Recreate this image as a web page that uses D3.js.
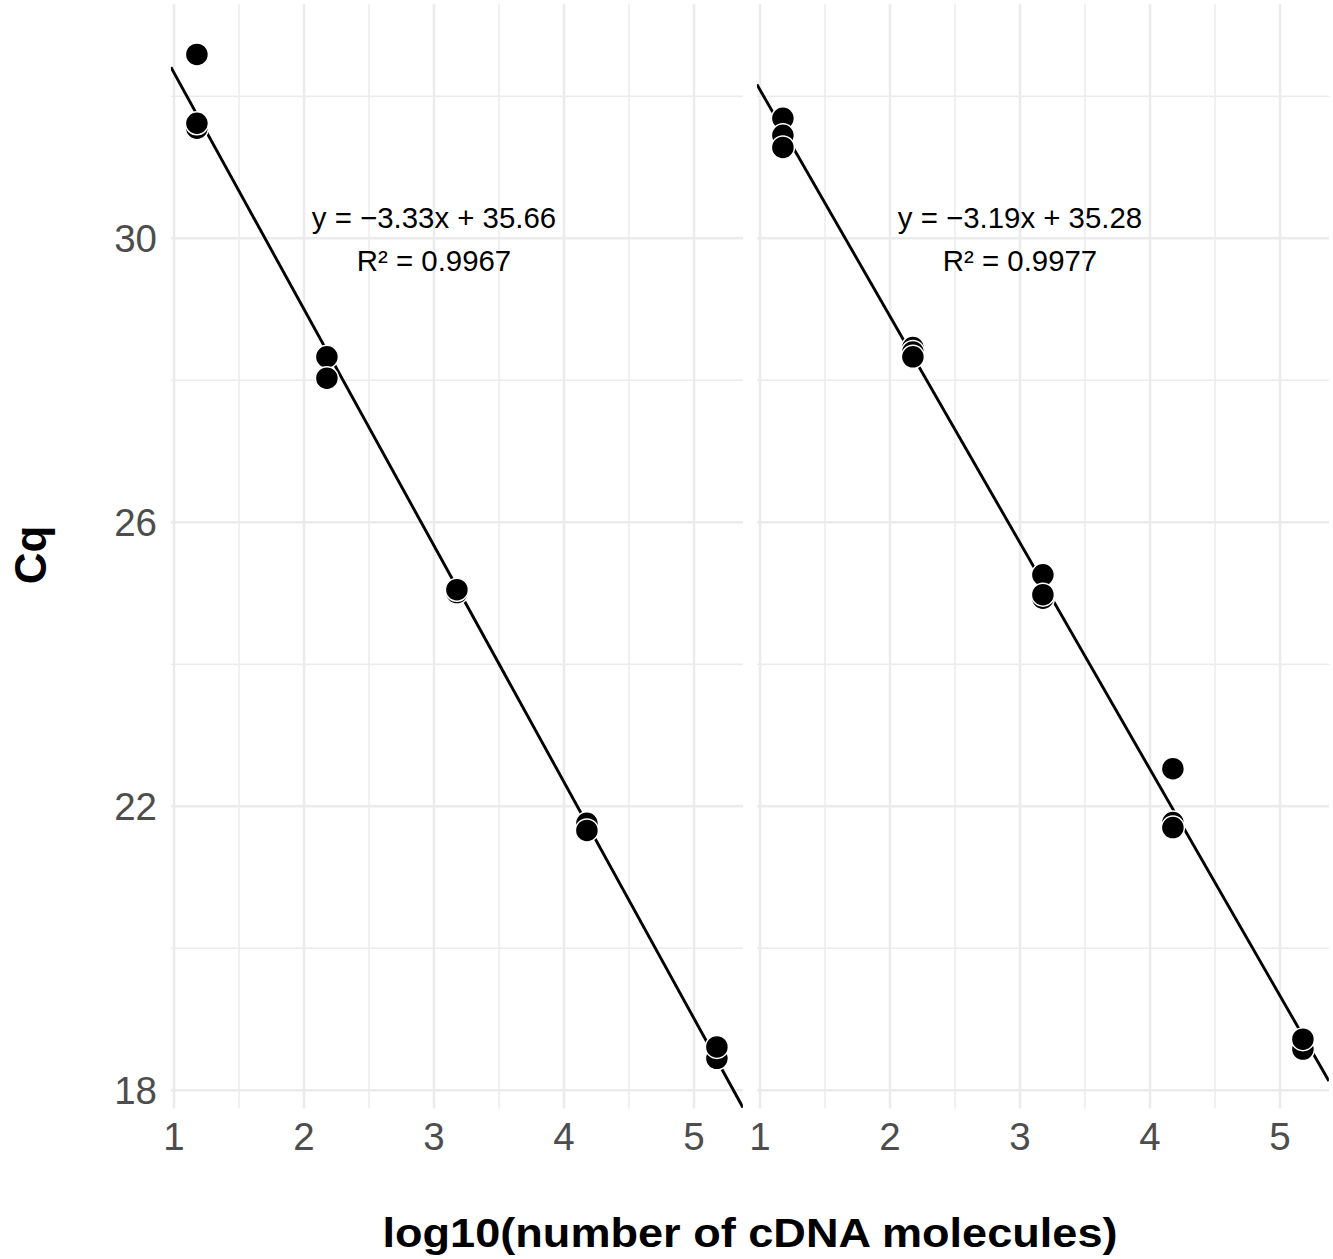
<!DOCTYPE html>
<html>
<head>
<meta charset="utf-8">
<script src="https://cdn.jsdelivr.net/npm/d3@7"></script>
<style>
body{margin:0;background:#ffffff;}
text{font-family:"Liberation Sans", Arial, Helvetica, sans-serif;}
</style>
</head>
<body>
<div id="chart"></div>
<script>
// data
var leftLogCopies  = [1.176, 1.176, 1.176, 2.176, 2.176, 3.176, 3.176, 4.176, 4.176, 5.176, 5.176];
var leftCq         = [32.59, 31.55, 31.62, 28.33, 28.03, 25.01, 25.05, 21.76, 21.66, 18.45, 18.61];
var rightLogCopies = [1.176, 1.176, 1.176, 2.176, 2.176, 2.176, 3.176, 3.176, 3.176, 4.176, 4.176, 4.176, 5.176, 5.176];
var rightCq        = [31.69, 31.45, 31.28, 28.46, 28.40, 28.33, 25.26, 24.93, 24.98, 22.53, 21.77, 21.70, 18.58, 18.72];

var fitSlope     = [-3.33, -3.19];
var fitIntercept = [35.66, 35.28];
var fitR2        = ["0.9967", "0.9977"];
var eqLabels     = ["y = \u22123.33x + 35.66", "y = \u22123.19x + 35.28"];

var xTicks = [1, 2, 3, 4, 5];
var yTicks = [18, 22, 26, 30];
var xMinor = [1.5, 2.5, 3.5, 4.5];
var yMinor = [20, 24, 28, 32];

var panels = [
    {x: leftLogCopies,  y: leftCq},
    {x: rightLogCopies, y: rightCq}
];

var W = 1333, H = 1259;
var panelW = 572, panelTop = 4.2, panelBottom = 1108.5;
var panelLeft = [170.9, 756.9];

// shared scales, ggplot style 5% expansion
var allX = leftLogCopies.concat(rightLogCopies);
var allY = leftCq.concat(rightCq);
var xExt = d3.extent(allX), yExt = d3.extent(allY);
var xPad = (xExt[1] - xExt[0]) * 0.05, yPad = (yExt[1] - yExt[0]) * 0.05;

var yScale = d3.scaleLinear()
    .domain([yExt[0] - yPad, yExt[1] + yPad])
    .range([panelBottom, panelTop])
    ;

var svg = d3.select("#chart").append("svg")
    .attr("width", W)
    .attr("height", H)
    .attr("viewBox", `0 0 ${W} ${H}`)
    ;
svg.append("rect")
    .attr("width", W)
    .attr("height", H)
    .attr("fill", "#ffffff")
    ;

var defs = svg.append("defs");

panels.forEach(function(p, k){
    var x0 = panelLeft[k];
    var xScale = d3.scaleLinear()
        .domain([xExt[0] - xPad, xExt[1] + xPad])
        .range([x0, x0 + panelW])
        ;

    defs.append("clipPath")
        .attr("id", "clip" + k)
        .append("rect")
        .attr("x", x0)
        .attr("y", panelTop)
        .attr("width", panelW)
        .attr("height", panelBottom - panelTop)
        ;

    var g = svg.append("g").attr("class", "panel");

    // minor grid
    g.selectAll("line.xminor").data(xMinor).enter().append("line")
        .attr("class", "xminor")
        .attr("x1", d=>xScale(d)).attr("x2", d=>xScale(d))
        .attr("y1", panelTop).attr("y2", panelBottom)
        .attr("stroke", "#ebebeb").attr("stroke-width", 1.4)
        ;
    g.selectAll("line.yminor").data(yMinor).enter().append("line")
        .attr("class", "yminor")
        .attr("x1", x0).attr("x2", x0 + panelW)
        .attr("y1", d=>yScale(d)).attr("y2", d=>yScale(d))
        .attr("stroke", "#ebebeb").attr("stroke-width", 1.4)
        ;
    // major grid
    g.selectAll("line.xmajor").data(xTicks).enter().append("line")
        .attr("class", "xmajor")
        .attr("x1", d=>xScale(d)).attr("x2", d=>xScale(d))
        .attr("y1", panelTop).attr("y2", panelBottom)
        .attr("stroke", "#ebebeb").attr("stroke-width", 2.6)
        ;
    g.selectAll("line.ymajor").data(yTicks).enter().append("line")
        .attr("class", "ymajor")
        .attr("x1", x0).attr("x2", x0 + panelW)
        .attr("y1", d=>yScale(d)).attr("y2", d=>yScale(d))
        .attr("stroke", "#ebebeb").attr("stroke-width", 2.6)
        ;

    // x tick labels
    g.selectAll("text.xtick").data(xTicks).enter().append("text")
        .attr("class", "xtick")
        .attr("x", d=>xScale(d))
        .attr("y", 1150)
        .attr("text-anchor", "middle")
        .attr("font-size", 38.5)
        .attr("fill", "#4d4d4d")
        .text(d=>d)
        ;

    // fitted line over full panel range
    var xd = xScale.domain();
    g.append("line")
        .attr("clip-path", "url(#clip" + k + ")")
        .attr("x1", xScale(xd[0]))
        .attr("y1", yScale(fitSlope[k] * xd[0] + fitIntercept[k]))
        .attr("x2", xScale(xd[1]))
        .attr("y2", yScale(fitSlope[k] * xd[1] + fitIntercept[k]))
        .attr("stroke", "black")
        .attr("stroke-width", 2.9)
        ;

    // points
    var pts = p.x.map((d,i)=>({x: d, y: p.y[i]}));
    g.selectAll("circle.dot").data(pts).enter().append("circle")
        .attr("class", "dot")
        .attr("cx", d=>xScale(d.x))
        .attr("cy", d=>yScale(d.y))
        .attr("r", 11.5)
        .attr("fill", "black")
        .attr("stroke", "white")
        .attr("stroke-width", 1.5)
        ;

    // equation labels
    g.append("text")
        .attr("x", xScale(3))
        .attr("y", 228)
        .attr("text-anchor", "middle")
        .attr("font-size", 29.4)
        .attr("fill", "black")
        .text(eqLabels[k])
        ;
    g.append("text")
        .attr("x", xScale(3))
        .attr("y", 271)
        .attr("text-anchor", "middle")
        .attr("font-size", 29.4)
        .attr("fill", "black")
        .text("R\u00b2 = " + fitR2[k])
        ;
});

// y tick labels (left panel only)
svg.selectAll("text.ytick").data(yTicks).enter().append("text")
    .attr("class", "ytick")
    .attr("x", 157)
    .attr("y", d=>yScale(d))
    .attr("dy", "0.36em")
    .attr("text-anchor", "end")
    .attr("font-size", 38.5)
    .attr("fill", "#4d4d4d")
    .text(d=>d)
    ;

// axis titles
svg.append("text")
    .attr("transform", "translate(46,555),rotate(-90)")
    .attr("text-anchor", "middle")
    .attr("font-size", 44)
    .attr("font-weight", "bold")
    .attr("fill", "black")
    .text("Cq")
    ;
svg.append("text")
    .attr("x", 750)
    .attr("y", 1247)
    .attr("text-anchor", "middle")
    .attr("font-size", 40)
    .attr("font-weight", "bold")
    .attr("textLength", 735)
    .attr("lengthAdjust", "spacingAndGlyphs")
    .attr("fill", "black")
    .text("log10(number of cDNA molecules)")
    ;
</script>
</body>
</html>
